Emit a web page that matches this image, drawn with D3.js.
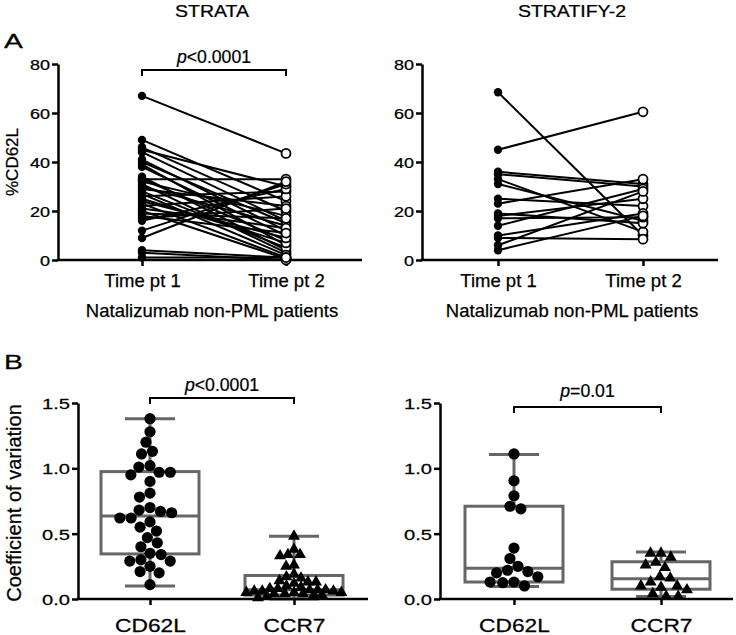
<!DOCTYPE html>
<html><head><meta charset="utf-8">
<script src="https://cdn.jsdelivr.net/npm/d3@7"></script>
<style>
body{margin:0;background:#fff}
svg{display:block}
text{font-family:"Liberation Sans",Arial,Helvetica,sans-serif;fill:#000;stroke:#000;stroke-width:0.25px}
</style>
</head><body>
<svg id="c" width="736" height="635"></svg>
<script>
// ---------------- DATA ----------------
const panelTitles = ["STRATA", "STRATIFY-2"];
const timeCategories = ["Time pt 1", "Time pt 2"];
const boxCategories = ["CD62L", "CCR7"];
const yTicksA = [0, 20, 40, 60, 80];
const yTicksB = [0, 0.5, 1.0, 1.5];
const xTitleA = "Natalizumab non-PML patients";
const yTitleA = "%CD62L";
const yTitleB = "Coefficient of variation";
const pStrataA = "<0.0001";
const pStrataB = "<0.0001";
const pStratifyB = "=0.01";

// Panel A: paired %CD62L values (time pt 1 -> time pt 2)
const strataT1 = [67, 49, 46, 45, 44, 41, 40, 39, 38, 34, 33, 33, 32, 31, 30, 29, 28, 27, 26, 25, 24, 23, 22, 21, 20, 19, 18, 17, 16, 12, 9, 4, 3, 1];
const strataT2 = [43.5, 24, 20, 30, 16, 12, 15, 6, 10, 4, 33, 8, 18, 3, 14, 22, 5, 2, 28, 7, 9, 1, 26, 13, 0.5, 17, 11, 21, 29, 31, 32, 1, 0, 1];
const stratifyT1 = [68.5, 45, 36, 35, 33, 31, 25, 23, 19, 18, 17, 14, 10, 9, 6, 4];
const stratifyT2 = [10, 60.5, 31, 30, 11.5, 16, 22, 33, 15, 25, 17.5, 29, 19, 8.5, 28, 18];

// Panel B: coefficient of variation
const strataCD62L = [1.38, 1.28, 1.20, 1.13, 1.11, 1.02, 0.97, 0.95, 1.01, 0.97, 0.90, 0.81, 0.78, 0.70, 0.67, 0.68, 0.66, 0.59, 0.62, 0.62, 0.55, 0.52, 0.47, 0.43, 0.40, 0.35, 0.34, 0.29, 0.29, 0.30, 0.25, 0.21, 0.20, 0.11];
const strataCCR7 = [0.48, 0.38, 0.34, 0.33, 0.34, 0.25, 0.26, 0.19, 0.16, 0.17, 0.13, 0.12, 0.13, 0.14, 0.10, 0.09, 0.08, 0.08, 0.07, 0.07, 0.07, 0.06, 0.06, 0.06, 0.05, 0.05, 0.05, 0.04, 0.04, 0.04, 0.03, 0.03, 0.02, 0.01];
const stratifyCD62L = [1.11, 0.905, 0.79, 0.71, 0.69, 0.39, 0.31, 0.25, 0.21, 0.20, 0.22, 0.17, 0.13, 0.125, 0.13, 0.10];
const stratifyCCR7 = [0.35, 0.35, 0.32, 0.28, 0.26, 0.24, 0.17, 0.16, 0.13, 0.10, 0.09, 0.07, 0.10, 0.04, 0.02, 0.02];

// Box stats: [min, q1, median, q3, max]
const strataCD62LBox = [0.10, 0.345, 0.635, 0.975, 1.38];
const strataCCR7Box = [0.0, 0.03, 0.07, 0.18, 0.48];
const stratifyCD62LBox = [0.095, 0.13, 0.235, 0.71, 1.105];
const stratifyCCR7Box = [0.02, 0.075, 0.155, 0.285, 0.36];

// ---------------- DRAW ----------------
const svg = d3.select("#c");
const AXW = 2.5;

function label(g, x, y, s, o = {}) {
  const t = g.append("text")
    .attr("transform", `translate(${x},${y})${o.rot ? ` rotate(${o.rot})` : ""} scale(${o.sx || 1},1)`)
    .attr("text-anchor", o.anchor || "middle")
    .style("font-size", (o.size || 16) + "px");
  if (o.pval) {
    t.append("tspan").style("font-style", "italic").text("p");
    t.append("tspan").text(s);
  } else t.text(s);
  return t;
}

function styleAxis(sel, size, sx, isLeft, baseY) {
  sel.selectAll("path.domain").attr("stroke", "#000").attr("stroke-width", AXW);
  sel.selectAll(".tick line").attr("stroke", "#000").attr("stroke-width", AXW);
  sel.selectAll(".tick text").each(function () {
    const t = d3.select(this);
    if (isLeft) {
      t.attr("x", null).attr("dy", null)
        .attr("transform", `translate(-8,${size * 0.36}) scale(${sx},1)`);
    } else {
      t.attr("y", null).attr("dy", null)
        .attr("transform", `translate(0,${baseY}) scale(${sx},1)`);
    }
  }).style("font-size", size + "px").attr("font-family", null);
}

function bracket(g, xa, xb, y, txt, txtY) {
  g.append("path")
    .attr("d", `M${xa},${y + 6}V${y}H${xb}V${y + 6}`)
    .attr("fill", "none").attr("stroke", "#000").attr("stroke-width", 2);
  label(g, (xa + xb) / 2, txtY, txt, { size: 19, sx: 0.93, pval: true });
}

function linePanel(cfg, t1, t2, title) {
  const g = svg.append("g");
  const y = d3.scaleLinear().domain([0, 80]).range([cfg.yBottom, cfg.yTop]);
  const x = d3.scalePoint().domain(timeCategories).range([cfg.c1, cfg.c2]);

  const ya = g.append("g").attr("transform", `translate(${cfg.axisX},0)`)
    .call(d3.axisLeft(y).tickValues(yTicksA).tickSize(6).tickSizeOuter(0));
  styleAxis(ya, 15, 1.2, true);

  g.append("line").attr("x1", cfg.axisX - AXW / 2).attr("x2", cfg.xEnd)
    .attr("y1", cfg.yBottom).attr("y2", cfg.yBottom)
    .attr("stroke", "#000").attr("stroke-width", AXW);
  const xa = g.append("g").attr("transform", `translate(0,${cfg.yBottom})`)
    .call(d3.axisBottom(x).tickSize(6).tickSizeOuter(0));
  xa.select("path.domain").remove();
  styleAxis(xa, 18.5, 1.0, false, 27);

  label(g, (cfg.axisX + cfg.xEnd) / 2 + 2, 317, xTitleA, { size: 18.5 });
  label(g, (cfg.axisX + cfg.xEnd) / 2 + 2, 17, title, { size: 16.5, sx: 1.18 });

  const pairs = t1.map((v, i) => [v, t2[i]]);
  g.append("g").selectAll("line").data(pairs).join("line")
    .attr("x1", x(timeCategories[0])).attr("x2", x(timeCategories[1]))
    .attr("y1", d => y(d[0])).attr("y2", d => y(d[1]))
    .attr("stroke", "#000").attr("stroke-width", 2);
  g.append("g").selectAll("circle").data(t1).join("circle")
    .attr("cx", x(timeCategories[0])).attr("cy", d => y(d)).attr("r", 4.2).attr("fill", "#000");
  g.append("g").selectAll("circle").data(t2).join("circle")
    .attr("cx", x(timeCategories[1])).attr("cy", d => y(d)).attr("r", 4.5)
    .attr("fill", "#fff").attr("stroke", "#000").attr("stroke-width", 1.8);
  return { g, x, y };
}

// beeswarm: collision diameter d, maximum half-spread maxS
function swarm(values, yScale, cx, d, maxS) {
  const pts = values.map(v => ({ v, y: yScale(v) })).sort((a, b) => a.y - b.y);
  const placed = [];
  for (const p of pts) {
    const cands = [0];
    for (const q of placed) {
      const dy = Math.abs(q.y - p.y);
      if (dy < d) {
        const dx = Math.sqrt(d * d - dy * dy);
        cands.push(q.dx + dx + 0.01, q.dx - dx - 0.01);
      }
    }
    cands.sort((a, b) => Math.abs(a) - Math.abs(b) || a - b);
    let chosen = null;
    for (const c of cands) {
      if (Math.abs(c) > maxS) continue;
      let ok = true;
      for (const q of placed) {
        const ddx = q.dx - c, ddy = q.y - p.y;
        if (ddx * ddx + ddy * ddy < d * d - 0.01) { ok = false; break; }
      }
      if (ok) { chosen = c; break; }
    }
    if (chosen === null) {
      let best = 0, bestD = -1;
      for (let c = -maxS; c <= maxS; c += 1) {
        let mn = Infinity;
        for (const q of placed) {
          const dd = Math.hypot(q.dx - c, q.y - p.y);
          if (dd < mn) mn = dd;
        }
        if (mn > bestD) { bestD = mn; best = c; }
      }
      chosen = best;
    }
    p.dx = chosen;
    placed.push(p);
  }
  return placed.map(p => ({ v: p.v, x: cx + p.dx, y: p.y }));
}

function boxPanel(cfg, v1, v2, b1, b2, pTxt) {
  const g = svg.append("g");
  const y = d3.scaleLinear().domain([0, 1.5]).range([cfg.yBottom, cfg.yTop]);
  const x = d3.scalePoint().domain(boxCategories).range([cfg.c1, cfg.c2]);

  const ya = g.append("g").attr("transform", `translate(${cfg.axisX},0)`)
    .call(d3.axisLeft(y).tickValues(yTicksB).tickFormat(d3.format(".1f")).tickSize(6).tickSizeOuter(0));
  styleAxis(ya, 15.5, 1.3, true);

  const boxCol = "#666";
  [[b1, boxCategories[0]], [b2, boxCategories[1]]].forEach(([b, c]) => {
    const cx = x(c), hw = 49, cw = 25;
    const bg = g.append("g");
    bg.append("line").attr("x1", cx).attr("x2", cx).attr("y1", y(b[4])).attr("y2", y(b[3]))
      .attr("stroke", boxCol).attr("stroke-width", 3);
    bg.append("line").attr("x1", cx).attr("x2", cx).attr("y1", y(b[1])).attr("y2", y(b[0]))
      .attr("stroke", boxCol).attr("stroke-width", 3);
    bg.append("line").attr("x1", cx - cw).attr("x2", cx + cw).attr("y1", y(b[4])).attr("y2", y(b[4]))
      .attr("stroke", boxCol).attr("stroke-width", 3);
    bg.append("line").attr("x1", cx - cw).attr("x2", cx + cw).attr("y1", y(b[0])).attr("y2", y(b[0]))
      .attr("stroke", boxCol).attr("stroke-width", 3);
    bg.append("rect").attr("x", cx - hw).attr("width", 2 * hw)
      .attr("y", y(b[3])).attr("height", y(b[1]) - y(b[3]))
      .attr("fill", "none").attr("stroke", boxCol).attr("stroke-width", 3);
    bg.append("line").attr("x1", cx - hw).attr("x2", cx + hw).attr("y1", y(b[2])).attr("y2", y(b[2]))
      .attr("stroke", boxCol).attr("stroke-width", 3);
  });

  const s1 = swarm(v1, y, x(boxCategories[0]), 11.2, 45);
  g.append("g").selectAll("circle").data(s1).join("circle")
    .attr("cx", d => d.x).attr("cy", d => d.y).attr("r", 5.6).attr("fill", "#000");
  const s2 = swarm(v2, y, x(boxCategories[1]), cfg.triD, cfg.triMax);
  const tri = d3.symbol(d3.symbolTriangle, 62);
  g.append("g").selectAll("path").data(s2).join("path")
    .attr("d", tri).attr("transform", d => `translate(${d.x},${d.y})`).attr("fill", "#000");

  g.append("line").attr("x1", cfg.axisX - AXW / 2).attr("x2", cfg.xEnd)
    .attr("y1", cfg.yBottom).attr("y2", cfg.yBottom)
    .attr("stroke", "#000").attr("stroke-width", AXW);
  const xa = g.append("g").attr("transform", `translate(0,${cfg.yBottom})`)
    .call(d3.axisBottom(x).tickSize(6).tickSizeOuter(0));
  xa.select("path.domain").remove();
  styleAxis(xa, 17.5, 1.3, false, 33);

  bracket(g, x(boxCategories[0]), x(boxCategories[1]), cfg.brY, pTxt, cfg.pY);
  return { g, x, y };
}

// Panel A
const aL = linePanel({ axisX: 58, xEnd: 362, yBottom: 260, yTop: 64, c1: 142, c2: 286 }, strataT1, strataT2, panelTitles[0]);
const aR = linePanel({ axisX: 422, xEnd: 718, yBottom: 260, yTop: 64, c1: 498, c2: 643 }, stratifyT1, stratifyT2, panelTitles[1]);
bracket(aL.g, aL.x(timeCategories[0]), aL.x(timeCategories[1]), 70, pStrataA, 63);
label(svg, 18, 162, yTitleA, { size: 17, rot: -90 });
label(svg, 4, 48, "A", { size: 21, sx: 1.35, anchor: "start" });

// Panel B
boxPanel({ axisX: 78, xEnd: 368, yBottom: 599, yTop: 403, c1: 150, c2: 294, brY: 398, pY: 391, triD: 8, triMax: 50 },
  strataCD62L, strataCCR7, strataCD62LBox, strataCCR7Box, pStrataB);
boxPanel({ axisX: 440, xEnd: 733, yBottom: 599, yTop: 403, c1: 514, c2: 661, brY: 407, pY: 397, triD: 10.5, triMax: 40 },
  stratifyCD62L, stratifyCCR7, stratifyCD62LBox, stratifyCCR7Box, pStratifyB);
label(svg, 21, 503, yTitleB, { size: 20, rot: -90 });
label(svg, 4, 369, "B", { size: 21, sx: 1.35, anchor: "start" });
</script>
</body></html>
